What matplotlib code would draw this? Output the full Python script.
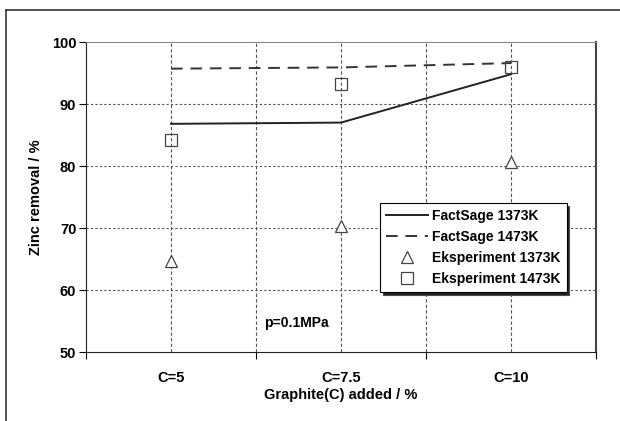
import matplotlib
matplotlib.use('Agg')
import matplotlib.pyplot as plt
from matplotlib.lines import Line2D

# ################## data
categories = ['C=5', 'C=7.5', 'C=10']
cat_pos = [1, 3, 5]
factsage_1373 = [86.8, 87.0, 94.8]
factsage_1473 = [95.7, 95.9, 96.6]
exp_1373 = [64.7, 70.4, 80.6]
exp_1473 = [84.2, 93.2, 96.0]

plt.rcParams['font.family'] = ['Liberation Sans', 'DejaVu Sans']
plt.rcParams['font.weight'] = 'bold'

fig = plt.figure(figsize=(6.2, 4.21), dpi=100)
ax = fig.add_axes([86 / 620, 1 - 352 / 421, 510 / 620, 310 / 421])

ax.plot(cat_pos, factsage_1373, color='#222222', lw=1.4, label='FactSage 1373K')
ax.plot(cat_pos, factsage_1473, color='#333333', lw=1.4, dashes=(6, 4), label='FactSage 1473K')
ax.plot(cat_pos, exp_1373, ls='none', marker='^', ms=8.5, mfc='white', mec='#444444', mew=0.9,
        label='Eksperiment 1373K')
ax.plot(cat_pos, exp_1473, ls='none', marker='s', ms=8, mfc='none', mec='#444444', mew=0.9,
        label='Eksperiment 1473K')

ax.set_xlim(0, 6)
ax.set_ylim(50, 100)
ax.set_yticks(range(50, 101, 10))
ax.set_xticks([0, 2, 4, 6])
ax.set_xticklabels([])
ax.set_xticks(cat_pos, minor=True)
ax.set_xticklabels(categories, minor=True)
ax.tick_params(axis='x', which='minor', length=0, pad=14, labelsize=10.5)
ax.tick_params(axis='x', which='major', length=5, direction='out')
ax.tick_params(axis='y', length=5, direction='out', labelsize=10.5, pad=2)

# gridlines
for y in [60, 70, 80, 90]:
    ax.axhline(y, color='#555555', lw=0.8, ls=(0, (2, 2)), zorder=0)
for x in [1, 2, 3, 4, 5]:
    ax.axvline(x, color='#555555', lw=0.8, ls=(0, (3, 2)), zorder=0)

ax.spines['left'].set_color('#222222')
ax.spines['bottom'].set_color('#222222')
ax.spines['top'].set_color('#888888')
ax.spines['right'].set_color('#444444')
ax.spines['right'].set_linewidth(1.5)

ax.set_ylabel('Zinc removal / %', fontsize=10.5, fontweight='bold', labelpad=6)
ax.set_xlabel('Graphite(C) added / %', fontsize=10.5, fontweight='bold', labelpad=2)
ax.text(2.47, 54.7, 'p=0.1MPa', fontsize=10, fontweight='bold', ha='center', va='center')

leg = ax.legend(loc='upper left', bbox_to_anchor=(0.576, 0.481), fancybox=False,
                shadow={'facecolor': '#222222', 'alpha': 1}, borderaxespad=0,
                edgecolor='black', framealpha=1, fontsize=10, handlelength=3.0,
                borderpad=0.45, labelspacing=0.5, handletextpad=0.3)
leg.get_frame().set_linewidth(0.8)

# outer border (left and top only, as in the picture)
fig.add_artist(Line2D([6, 6], [0, 411], transform=None, color='#333333', lw=1.2))
fig.add_artist(Line2D([6, 620], [411, 411], transform=None, color='#333333', lw=1.2))

fig.savefig('out.png', dpi=100)
